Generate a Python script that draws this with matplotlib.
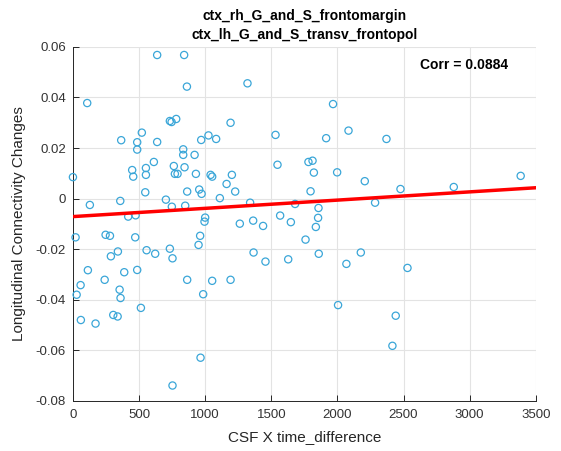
import numpy as np
import matplotlib
matplotlib.use('Agg')
import matplotlib.pyplot as plt

plt.rcParams['font.family'] = ['Liberation Sans', 'DejaVu Sans']

# CSF x time difference vs. longitudinal connectivity change
csf_time = [0, 108, 128, 358, 365, 418, 474, 448, 456, 486, 486, 521, 552, 552, 547,
            612, 637, 637, 703, 733, 746, 781, 748, 763, 771, 791, 841, 862, 834, 834,
            844, 864, 849, 920, 930, 970, 955, 973, 1000, 995, 1025, 1041, 1053, 1083,
            1111, 1162, 1192, 1202, 1320, 1227, 1340, 1262, 1363, 1438, 1532, 1547,
            1567, 1648, 1680, 1781, 1812, 1822, 1797, 1857, 1854, 1837, 1915, 1967,
            1998, 2084, 2207, 2285, 2371, 2477, 2880, 3386,
            20, 247, 280, 471, 340, 287, 113, 58, 28, 240, 388, 486, 353, 360, 514,
            305, 338, 60, 171, 557, 622, 733, 753, 962, 950, 864, 985, 1053, 1192,
            965, 753, 1366, 1456, 1628, 1759, 1859, 2005, 2068, 2177, 2530, 2441, 2416]
conn_change = [0.0085, 0.0378, -0.0025, -0.0009, 0.0231, -0.0071, -0.0066, 0.0113,
               0.0087, 0.0223, 0.0194, 0.0261, 0.0121, 0.0094, 0.0025, 0.0145, 0.0568,
               0.0224, -0.0004, 0.0307, 0.0303, 0.0315, -0.0032, 0.0129, 0.0098, 0.0098,
               0.0568, 0.0443, 0.0195, 0.0173, 0.0124, 0.0028, -0.0028, 0.0173, 0.0098,
               0.0232, 0.0036, 0.0019, -0.0075, -0.0091, 0.0250, 0.0094, 0.0087, 0.0236,
               0.0002, 0.0058, 0.0300, 0.0094, 0.0456, 0.0028, -0.0016, -0.0099, -0.0087,
               -0.0108, 0.0252, 0.0134, -0.0067, -0.0093, -0.0021, 0.0145, 0.0150, 0.0103,
               0.0029, -0.0037, -0.0076, -0.0112, 0.0239, 0.0374, 0.0104, 0.0269, 0.0069,
               -0.0016, 0.0236, 0.0038, 0.0046, 0.0090,
               -0.0153, -0.0143, -0.0147, -0.0153, -0.0209, -0.0228, -0.0283, -0.0342,
               -0.0380, -0.0321, -0.0291, -0.0282, -0.0360, -0.0393, -0.0432, -0.0460,
               -0.0466, -0.0480, -0.0494, -0.0204, -0.0218, -0.0198, -0.0236, -0.0147,
               -0.0183, -0.0321, -0.0378, -0.0325, -0.0321, -0.0629, -0.0739, -0.0213,
               -0.0249, -0.0240, -0.0162, -0.0218, -0.0421, -0.0258, -0.0213, -0.0274,
               -0.0463, -0.0582]

# least-squares line endpoints
fit_x = [0, 3500]
fit_y = [-0.0071, 0.0043]
corr_value = 0.0884

title_lines = ['ctx_rh_G_and_S_frontomargin', 'ctx_lh_G_and_S_transv_frontopol']

fig = plt.figure(figsize=(5.61, 4.51), dpi=100)
ax = fig.add_axes([0.130, 0.111, 0.825, 0.785])

ax.scatter(csf_time, conn_change, s=27, facecolors='none',
           edgecolors='#3aa6d8', linewidths=0.9, zorder=3, clip_on=False)
ax.plot(fit_x, fit_y, color='red', linewidth=2.5, zorder=4)

ax.set_xlim(0, 3500)
ax.set_ylim(-0.08, 0.06)
ax.set_xticks(np.arange(0, 3501, 500))
ax.set_yticks(np.arange(-0.08, 0.0601, 0.02))
ax.set_yticklabels(['-0.08', '-0.06', '-0.04', '-0.02', '0', '0.02', '0.04', '0.06'])

ax.grid(True, color='#e3e3e3', linewidth=0.8, zorder=0)
ax.set_axisbelow(True)
for side in ['top', 'right']:
    ax.spines[side].set_visible(False)
for side in ['left', 'bottom']:
    ax.spines[side].set_color('#262626')
    ax.spines[side].set_linewidth(0.7)
ax.tick_params(direction='in', length=4, width=0.7, colors='#262626',
               labelsize=9.5, labelcolor='#333333')
ax.tick_params(axis='x', pad=6)
ax.tick_params(axis='y', pad=5)

ax.set_xlabel('CSF X time_difference', fontsize=11, color='#262626', labelpad=6)
ax.set_ylabel('Longitudinal Connectivity Changes', fontsize=11, color='#262626',
              labelpad=7)
ax.set_title('\n'.join(title_lines), fontsize=10, fontweight='bold', pad=6,
             linespacing=1.45)

ax.text(0.845, 0.95, 'Corr = {:.4f}'.format(corr_value), transform=ax.transAxes,
        ha='center', va='center', fontsize=10, fontweight='bold')

fig.savefig('out.png', dpi=100)
